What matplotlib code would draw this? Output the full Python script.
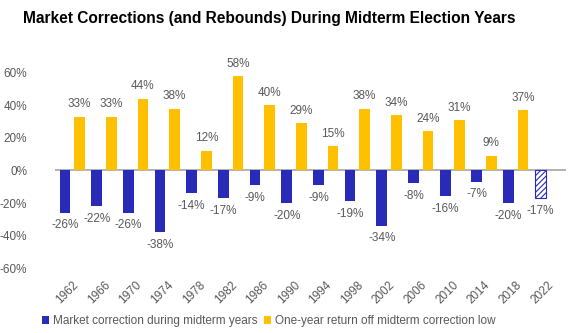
import matplotlib
matplotlib.use("Agg")
import matplotlib.pyplot as plt
from matplotlib.patches import Patch
import numpy as np

years = ["1962", "1966", "1970", "1974", "1978", "1982", "1986", "1990", "1994",
         "1998", "2002", "2006", "2010", "2014", "2018", "2022"]
corrections = [-26, -22, -26, -38, -14, -17, -9, -20, -9, -19, -34, -8, -16, -7, -20, -17]
rebounds = [33, 33, 44, 38, 12, 58, 40, 29, 15, 38, 34, 24, 31, 9, 37, None]
y_ticks = [-60, -40, -20, 0, 20, 40, 60]

BLUE = "#2A2AB8"
GOLD = "#FFC000"
GREY = "#595959"

plt.rcParams["font.family"] = ["Liberation Sans", "DejaVu Sans"]
plt.rcParams["hatch.linewidth"] = 0.8

fig = plt.figure(figsize=(5.78, 3.33), dpi=100)
ax = fig.add_axes([0.095, 0.195, 0.885, 0.635])

x = np.arange(len(years))
w = 0.34
off = 0.23

for i, v in enumerate(corrections):
    if years[i] == "2022":
        ax.bar(x[i] - off, v, w, facecolor="white", edgecolor=BLUE, hatch="//////",
               linewidth=0.8)
    else:
        ax.bar(x[i] - off, v, w, color=BLUE)
    ax.text(x[i] - off, v - 4, f"{v}%", ha="center", va="top", fontsize=8.5, color=GREY)

for i, v in enumerate(rebounds):
    if v is None:
        continue
    ax.bar(x[i] + off, v, w, color=GOLD)
    ax.text(x[i] + off, v + 4, f"{v}%", ha="center", va="bottom", fontsize=8.5, color=GREY)

ax.axhline(0, color="#A6A6A6", linewidth=1.2, zorder=0)
ax.set_xlim(-0.55, len(years) - 0.4)
ax.set_ylim(-60, 70)
ax.set_yticks(y_ticks)
ax.set_yticklabels([f"{t}%" for t in y_ticks], fontsize=8.5, color=GREY)
ax.set_xticks(x)
ax.set_xticklabels(years, rotation=45, ha="right", rotation_mode="anchor",
                   fontsize=8.5, color=GREY)
ax.tick_params(axis="y", length=0, pad=20)
ax.tick_params(axis="x", length=0, pad=8)
for s in ax.spines.values():
    s.set_visible(False)

fig.text(0.465, 0.945, "Market Corrections (and Rebounds) During Midterm Election Years",
         ha="center", va="center", fontsize=11.2, fontweight="bold", color="black")

handles = [Patch(facecolor=BLUE, label="Market correction during midterm years"),
           Patch(facecolor=GOLD, label="One-year return off midterm correction low")]
leg = fig.legend(handles=handles, loc="center", bbox_to_anchor=(0.465, 0.035), ncol=2,
                 frameon=False, fontsize=8.5, handlelength=0.6, handleheight=0.6,
                 handletextpad=0.3, columnspacing=0.6)
for t in leg.get_texts():
    t.set_color(GREY)

fig.savefig("out.png", dpi=100)
